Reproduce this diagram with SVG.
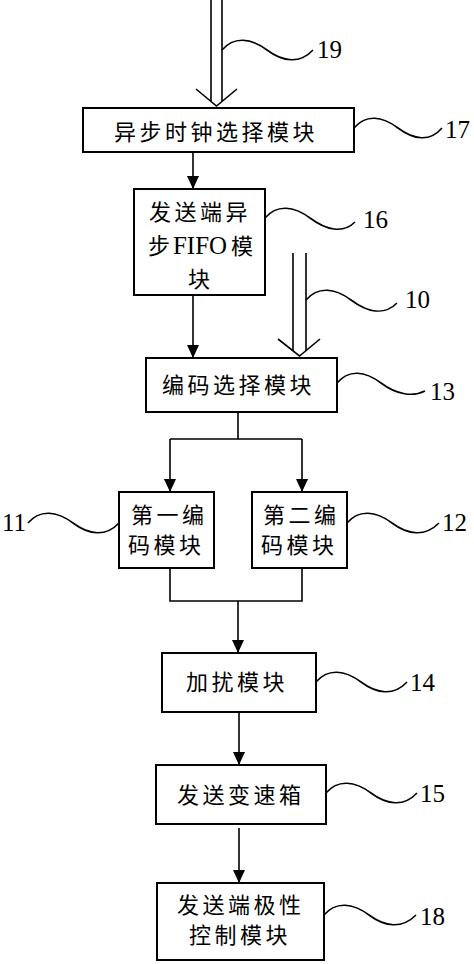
<svg xmlns="http://www.w3.org/2000/svg" width="474" height="964" viewBox="0 0 474 964">
<defs>
<marker id="ah" markerUnits="userSpaceOnUse" markerWidth="14" markerHeight="14" viewBox="0 0 14 14" refX="13" refY="7" orient="auto">
<path d="M0,1 L13,7 L0,13 Z" fill="#000"/>
</marker>
<style>
.box{fill:#fff;stroke:#000;stroke-width:2}
.ln{fill:none;stroke:#000;stroke-width:1.6}
.wv{fill:none;stroke:#000;stroke-width:1.6}
.t{font-family:"Noto Sans CJK SC",sans-serif;font-size:22px;letter-spacing:3.5px;fill:#000}
.lat{font-family:"Liberation Serif",serif;font-size:25px;letter-spacing:0;fill:#000}
.num{font-family:"Liberation Serif",serif;font-size:25px;fill:#000}
</style>
</defs>
<rect width="474" height="964" fill="#fff"/>
<g id="connectors">
<path class="ln" d="M211,0 V101 M222,0 V101"/>
<polyline class="ln" points="196,89 216.5,106 237,89"/>
<path class="ln" d="M193,152 V189" marker-end="url(#ah)"/>
<path class="ln" d="M193,295 V358" marker-end="url(#ah)"/>
<path class="ln" d="M293,253 V351 M306,253 V351"/>
<polyline class="ln" points="278,339 299.5,356 320,339"/>
<path class="ln" d="M238,412 V439 M170,439 H302"/>
<path class="ln" d="M170,439 V492" marker-end="url(#ah)"/>
<path class="ln" d="M302,439 V492" marker-end="url(#ah)"/>
<path class="ln" d="M170,568 V601 H302 V568"/>
<path class="ln" d="M238,601 V653" marker-end="url(#ah)"/>
<path class="ln" d="M239,712 V765" marker-end="url(#ah)"/>
<path class="ln" d="M239,828 V883" marker-end="url(#ah)"/>
</g>
<g id="leaders">
<path class="wv" d="M222,50 c12,-14 29,-12 45,0 s33,14 46,0"/>
<path class="wv" d="M354,128 c12,-14 28,-12 44,0 s32,14 44,0"/>
<path class="wv" d="M265,218 c12,-14 29,-12 45,0 s33,16 45,4"/>
<path class="wv" d="M306,300 c12,-14 29,-12 45,0 s33,16 46,3"/>
<path class="wv" d="M337,383 c12,-14 28,-12 44,0 s32,14 44,8"/>
<path class="wv" d="M28,523 c12,-14 29,-12 45,0 s33,14 46,0"/>
<path class="wv" d="M347,523 c12,-14 29,-12 45,0 s33,14 47,0"/>
<path class="wv" d="M316,682 c12,-14 29,-12 45,0 s33,14 46,0"/>
<path class="wv" d="M326,793 c12,-14 29,-12 45,0 s33,14 46,0"/>
<path class="wv" d="M324,915 c12,-14 29,-12 45,0 s33,14 47,0"/>
<text class="num" x="317" y="58">19</text>
<text class="num" x="445" y="138">17</text>
<text class="num" x="363" y="228">16</text>
<text class="num" x="405" y="308">10</text>
<text class="num" x="430" y="400">13</text>
<text class="num" x="2" y="531">11</text>
<text class="num" x="442" y="531">12</text>
<text class="num" x="410" y="691">14</text>
<text class="num" x="420" y="802">15</text>
<text class="num" x="420" y="925">18</text>
</g>
<g id="n17">
<rect class="box" x="83" y="108" width="271" height="44"/>
<text class="t" x="114" y="140">异步时钟选择模块</text>
</g>
<g id="n16">
<rect class="box" x="134" y="189" width="131" height="106"/>
<text class="t" x="149" y="220">发送端异</text>
<text class="t" x="148" y="254" letter-spacing="0">步</text>
<text class="lat" x="173" y="254" textLength="54" lengthAdjust="spacingAndGlyphs">FIFO</text>
<text class="t" x="231" y="254" letter-spacing="0">模</text>
<text class="t" x="188" y="287">块</text>
</g>
<g id="n13">
<rect class="box" x="146" y="358" width="191" height="54"/>
<text class="t" x="162" y="393">编码选择模块</text>
</g>
<g id="n11">
<rect class="box" x="119" y="492" width="95" height="76"/>
<text class="t" x="131" y="523" letter-spacing="1.5">第一编</text>
<text class="t" x="128" y="553" letter-spacing="1.5">码模块</text>
</g>
<g id="n12">
<rect class="box" x="252" y="492" width="95" height="76"/>
<text class="t" x="263" y="523" letter-spacing="1.5">第二编</text>
<text class="t" x="261" y="553" letter-spacing="1.5">码模块</text>
</g>
<g id="n14">
<rect class="box" x="162" y="653" width="154" height="59"/>
<text class="t" x="186" y="690">加扰模块</text>
</g>
<g id="n15">
<rect class="box" x="156" y="765" width="170" height="59"/>
<text class="t" x="177" y="803">发送变速箱</text>
</g>
<g id="n18">
<rect class="box" x="157" y="883" width="167" height="77"/>
<text class="t" x="177" y="913">发送端极性</text>
<text class="t" x="189" y="943">控制模块</text>
</g>
</svg>
